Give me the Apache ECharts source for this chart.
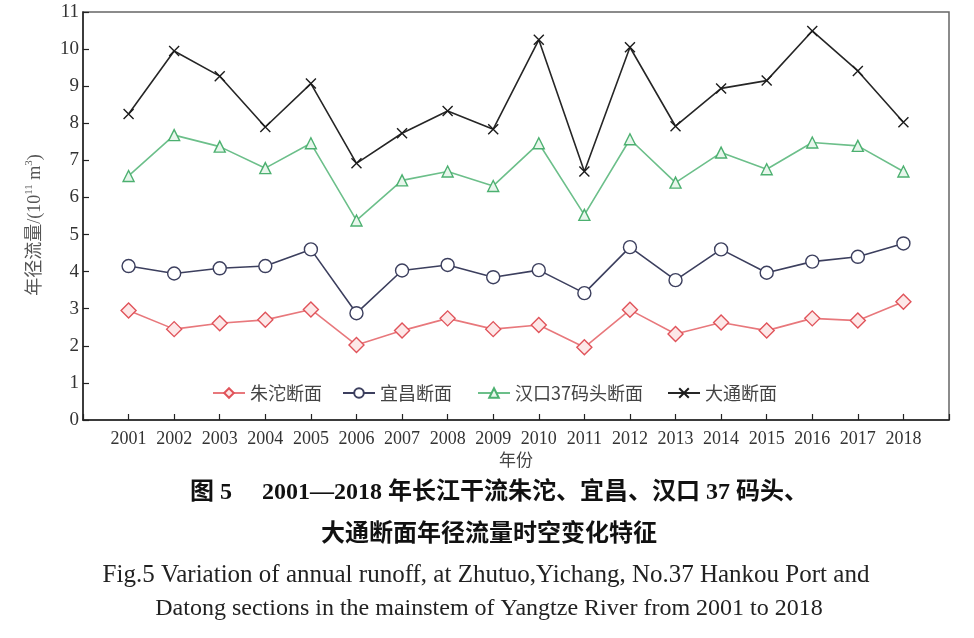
<!DOCTYPE html>
<html><head><meta charset="utf-8">
<script src="https://cdn.jsdelivr.net/npm/echarts@6/dist/echarts.min.js"></script>
<style>html,body{margin:0;padding:0;background:#fff}#c{width:974px;height:638px}</style>
</head><body><div id="c"></div>
<script>
const years = [2001,2002,2003,2004,2005,2006,2007,2008,2009,2010,2011,2012,2013,2014,2015,2016,2017,2018];
const zhutuo  = [2.95,2.45,2.61,2.70,2.98,2.02,2.41,2.74,2.45,2.56,1.96,2.97,2.32,2.63,2.41,2.74,2.68,3.19];
const yichang = [4.15,3.95,4.09,4.15,4.60,2.88,4.03,4.18,3.85,4.04,3.42,4.66,3.77,4.60,3.97,4.27,4.40,4.76];
const hankou  = [6.58,7.68,7.37,6.79,7.46,5.38,6.46,6.70,6.31,7.46,5.53,7.57,6.40,7.21,6.76,7.48,7.39,6.70];
const datong  = [8.25,9.95,9.27,7.90,9.07,6.92,7.73,8.33,7.84,10.25,6.70,10.05,7.92,8.94,9.15,10.49,9.41,8.03];
const seriesNames = ['朱沱断面','宜昌断面','汉口37码头断面','大通断面'];
const captionCn1 = '图 5　 2001—2018 年长江干流朱沱、宜昌、汉口 37 码头、';
const captionCn2 = '大通断面年径流量时空变化特征';
const captionEn1 = 'Fig.5 Variation of annual runoff, at Zhutuo,Yichang, No.37 Hankou Port and';
const captionEn2 = 'Datong sections in the mainstem of Yangtze River from 2001 to 2018';

const pair = arr => years.map((y,i)=>[y,arr[i]]);
const FONT = '"Liberation Serif","Noto Sans CJK SC",serif';
const crossPath = 'path://M0,0L10,10M10,0L0,10';

function mk(name, data, color, lineColor, symbol, size, fill){
  return {
    name, type:'line', data: pair(data), symbol, symbolSize:size,
    lineStyle:{color:lineColor, width:1.6},
    itemStyle:{color:fill, borderColor:color, borderWidth:1.4},
    emphasis:{disabled:true}, z:3
  };
}
const legendLeft = [207, 337, 472, 662];
const legends = seriesNames.map((n,i)=>({
  left:legendLeft[i], top:379, itemWidth:32, itemHeight:12,
  textStyle:{fontFamily:'"Noto Sans CJK SC",sans-serif',fontSize:18,color:'#444'},
  data:[n]
}));

const chart = echarts.init(document.getElementById('c'));
chart.setOption({
  animation:false,
  backgroundColor:'#fff',
  grid:{left:83,right:25,top:12,bottom:218,show:true,borderColor:'#666',borderWidth:1.5,backgroundColor:'transparent'},
  xAxis:{
    type:'value', min:2000, max:2019, interval:1,
    name:'年份', nameLocation:'middle', nameGap:30,
    nameTextStyle:{fontFamily:FONT,fontSize:17,color:'#444'},
    axisLine:{show:true,lineStyle:{color:'#222',width:1.5}},
    axisTick:{show:true,inside:true,length:6,lineStyle:{color:'#222',width:1.2}},
    axisLabel:{margin:10,fontFamily:FONT,fontSize:18,color:'#333',
      formatter:v=> (v>=2001 && v<=2018) ? String(v) : ''},
    splitLine:{show:false}
  },
  yAxis:{
    type:'value', min:0, max:11, interval:1,
    name:'年径流量/(10{sup|11} m{sup|3})', nameLocation:'middle', nameGap:37,
    nameTextStyle:{fontFamily:FONT,fontSize:18,color:'#555',lineHeight:22,padding:[0,18,0,0],
      rich:{sup:{fontFamily:FONT,fontSize:11,color:'#555',verticalAlign:'top',lineHeight:12}}},
    axisLine:{show:true,lineStyle:{color:'#222',width:1.5}},
    axisTick:{show:true,inside:true,length:6,lineStyle:{color:'#222',width:1.2}},
    axisLabel:{margin:4,fontFamily:FONT,fontSize:19,color:'#333'},
    splitLine:{show:false}
  },
  legend:legends,
  series:[
    mk(seriesNames[0], zhutuo, '#e0535a', '#e8787c', 'diamond', 15, '#fde8e8'),
    mk(seriesNames[1], yichang, '#3c3f5e', '#3c3f5e', 'circle', 13, '#ffffff'),
    mk(seriesNames[2], hankou, '#4cb070', '#6cbf8a', 'triangle', 11, '#e8f6ec'),
    mk(seriesNames[3], datong, '#1c1c1c', '#262626', crossPath, 10, '#1c1c1c')
  ],
  graphic:[
    {type:'text', x:499, y:493, style:{text:captionCn1, textAlign:'center', textVerticalAlign:'middle', font:'bold 24px "Liberation Serif","Noto Sans CJK SC"', fill:'#111'}},
    {type:'text', x:489, y:535, style:{text:captionCn2, textAlign:'center', textVerticalAlign:'middle', font:'bold 24px "Liberation Serif","Noto Sans CJK SC"', fill:'#111'}},
    {type:'text', x:486, y:575, style:{text:captionEn1, textAlign:'center', textVerticalAlign:'middle', font:'25px "Liberation Serif"', fill:'#222'}},
    {type:'text', x:489, y:609, style:{text:captionEn2, textAlign:'center', textVerticalAlign:'middle', font:'24px "Liberation Serif"', fill:'#222'}}
  ]
});
</script></body></html>
